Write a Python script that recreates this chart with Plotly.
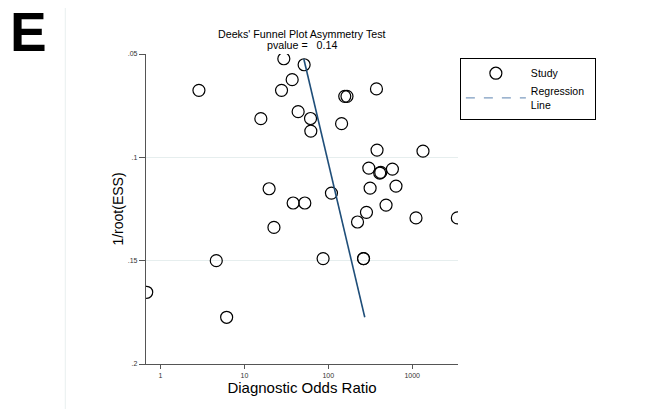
import plotly.graph_objects as go

# Study data: diagnostic odds ratio (x, log axis) and 1/root(ESS) (y)
dor = [0.685, 2.87, 4.62, 6.14, 15.7, 19.7, 22.5, 27.7, 29.5, 37.1, 38.1, 43.7,
       51.5, 52.5, 61.4, 61.9, 86.7, 109, 144, 157, 167, 223, 263, 263, 285,
       304, 315, 375, 381, 410, 422, 488, 581, 641, 1110, 1345, 3453]
inv_root_ess = [0.1653, 0.0676, 0.1500, 0.1774, 0.0813, 0.1152, 0.1339, 0.0676,
                0.0523, 0.0624, 0.1221, 0.0779, 0.0552, 0.1221, 0.0812, 0.0873,
                0.1490, 0.1173, 0.0837, 0.0705, 0.0705, 0.1313, 0.1490, 0.1490,
                0.1266, 0.1052, 0.1149, 0.0669, 0.0965, 0.1076, 0.1073, 0.1231,
                0.1057, 0.1139, 0.1293, 0.0970, 0.1293]

# Regression line endpoints (fitted)
reg_dor = [51.0, 272.0]
reg_y = [0.0523, 0.1774]

x_ticks = [1, 10, 100, 1000]
x_tick_labels = ["1", "10", "100", "1000"]
y_ticks = [0.05, 0.1, 0.15, 0.2]
y_tick_labels = [".05", ".1", ".15", ".2"]

pvalue = 0.14

fig = go.Figure()

fig.add_trace(go.Scatter(
    x=dor, y=inv_root_ess, mode="markers", name="Study&nbsp;&nbsp;&nbsp;&nbsp;&nbsp;&nbsp;&nbsp;&nbsp;",
    marker=dict(symbol="circle-open", size=12, color="black",
                line=dict(width=1.2, color="black")),
))
fig.add_trace(go.Scatter(
    x=reg_dor, y=reg_y, mode="lines", showlegend=False,
    line=dict(color="#1f4e79", width=1.6),
))
fig.add_trace(go.Scatter(
    x=[None], y=[None], mode="lines", name="Regression&nbsp;&nbsp;<br>Line",
    line=dict(color="#7d9cc0", width=1.4, dash="dash"),
))

font_family = "Liberation Sans, Arial, sans-serif"

fig.update_layout(
    width=638, height=401,
    margin=dict(l=138, r=188, t=46, b=45),
    paper_bgcolor="white", plot_bgcolor="white",
    font=dict(family=font_family, color="black"),
    xaxis=dict(
        type="log", range=[-0.173, 3.546],
        tickvals=x_ticks, ticktext=x_tick_labels,
        ticks="outside", ticklen=4, tickcolor="#555", tickwidth=1,
        tickfont=dict(size=7, color="#333"),
        showgrid=False, zeroline=False,
        showline=True, linecolor="#555", linewidth=1.3,
        title=dict(text="Diagnostic Odds Ratio", font=dict(size=15, color="black"), standoff=0),
    ),
    yaxis=dict(
        range=[0.2, 0.05],
        tickvals=y_ticks, ticktext=y_tick_labels,
        ticks="outside", ticklen=6, tickcolor="#555", tickwidth=1,
        tickfont=dict(size=7, color="#333"),
        showgrid=True, gridcolor="#e6eeee", gridwidth=1, zeroline=False,
        showline=True, linecolor="#555", linewidth=1.3,
        title=dict(text="1/root(ESS)", font=dict(size=14, color="black"), standoff=0),
    ),
    legend=dict(
        x=1.006, y=0.988, xanchor="left", yanchor="top",
        bordercolor="black", borderwidth=1, bgcolor="white",
        font=dict(size=10.5, color="black"), itemwidth=60,
        tracegroupgap=0,
    ),
    annotations=[
        dict(text="<b>E</b>", xref="paper", yref="paper", x=-0.378, y=1.072,
             xanchor="center", yanchor="middle", showarrow=False,
             font=dict(size=55, color="black", family=font_family)),
        dict(text="Deeks' Funnel Plot Asymmetry Test", xref="paper", yref="paper",
             x=0.5, y=1.0655, xanchor="center", yanchor="middle", showarrow=False,
             font=dict(size=10.7, color="black")),
        dict(text=f"pvalue =&nbsp;&nbsp;&nbsp;{pvalue:.2f}", xref="paper", yref="paper",
             x=0.5, y=1.030, xanchor="center", yanchor="middle", showarrow=False,
             font=dict(size=10.7, color="black")),
    ],
    shapes=[
        dict(type="line", xref="paper", yref="paper", x0=-0.2587, x1=-0.2587, y0=-0.2, y1=1.2,
             line=dict(color="#e8efef", width=1)),
        dict(type="line", xref="paper", yref="paper", x0=1.594, x1=1.594, y0=-0.2, y1=1.2,
             line=dict(color="#e8efef", width=1)),
    ],
)

fig.write_html("out.html")
